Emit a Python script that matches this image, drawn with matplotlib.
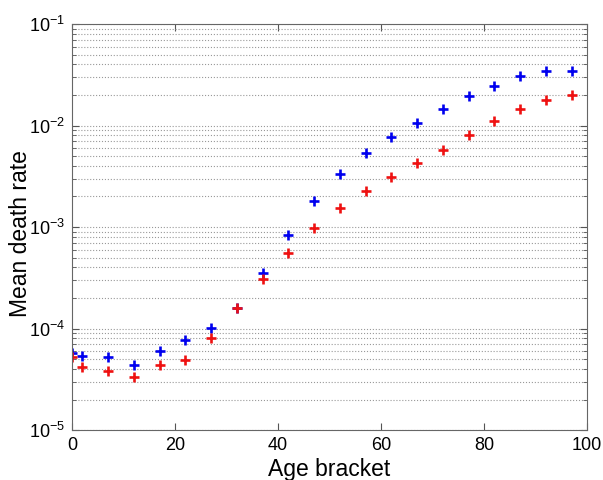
import matplotlib
matplotlib.use("Agg")
import matplotlib.pyplot as plt
from matplotlib.ticker import LogLocator, NullFormatter

plt.rcParams['font.family'] = ['Liberation Sans', 'DejaVu Sans']
plt.rcParams['mathtext.fontset'] = 'custom'
plt.rcParams['mathtext.rm'] = 'Liberation Sans'
plt.rcParams['mathtext.it'] = 'Liberation Sans:italic'
plt.rcParams['mathtext.bf'] = 'Liberation Sans:bold'

# age bracket midpoints
ages = [0, 2, 7, 12, 17, 22, 27, 32, 37, 42, 47, 52, 57, 62, 67, 72, 77, 82, 87, 92, 97]

# blue series
rate_blue = [5.7e-5, 5.4e-5, 5.2e-5, 4.4e-5, 6.0e-5, 7.7e-5, 1.02e-4, 1.6e-4, 3.55e-4,
             8.3e-4, 1.82e-3, 3.33e-3, 5.36e-3, 7.7e-3, 1.07e-2, 1.44e-2, 1.95e-2,
             2.47e-2, 3.08e-2, 3.42e-2, 3.42e-2]
# red series
rate_red = [5.3e-5, 4.15e-5, 3.85e-5, 3.3e-5, 4.4e-5, 4.9e-5, 8.0e-5, 1.6e-4, 3.1e-4,
            5.6e-4, 9.7e-4, 1.55e-3, 2.27e-3, 3.13e-3, 4.27e-3, 5.78e-3, 8.0e-3,
            1.12e-2, 1.47e-2, 1.79e-2, 1.98e-2]

fig = plt.figure(figsize=(6.03, 4.8), dpi=100)
ax = fig.add_axes([0.1194, 0.104, 0.8541, 0.846])

ax.plot(ages, rate_blue, '+', color='#0000ee', ms=7, mew=1.9)
ax.plot(ages, rate_red, '+', color='#ee1111', ms=7, mew=1.9)

ax.set_yscale('log')
ax.set_xlim(0, 100)
ax.set_ylim(1e-5, 1e-1)
ax.set_xticks([0, 20, 40, 60, 80, 100])
ax.yaxis.set_major_locator(LogLocator(base=10, numticks=10))
ax.yaxis.set_minor_locator(LogLocator(base=10, subs=range(2, 10), numticks=10))
ax.yaxis.set_minor_formatter(NullFormatter())

ax.grid(True, which='both', axis='y', color='#999999', linestyle=':', linewidth=0.8)

ax.tick_params(which='both', direction='in', top=True, right=True, labelsize=13,
               color='#555555')
ax.tick_params(which='major', length=5, pad=5)
ax.tick_params(which='minor', length=3)
for s in ax.spines.values():
    s.set_color('#666666')

ax.set_xlabel("Age bracket", fontsize=16.5, labelpad=3)
ax.set_ylabel("Mean death rate", fontsize=16.5)
ax.yaxis.set_label_coords(-0.078, 0.485)

fig.savefig("out.png", dpi=100)
